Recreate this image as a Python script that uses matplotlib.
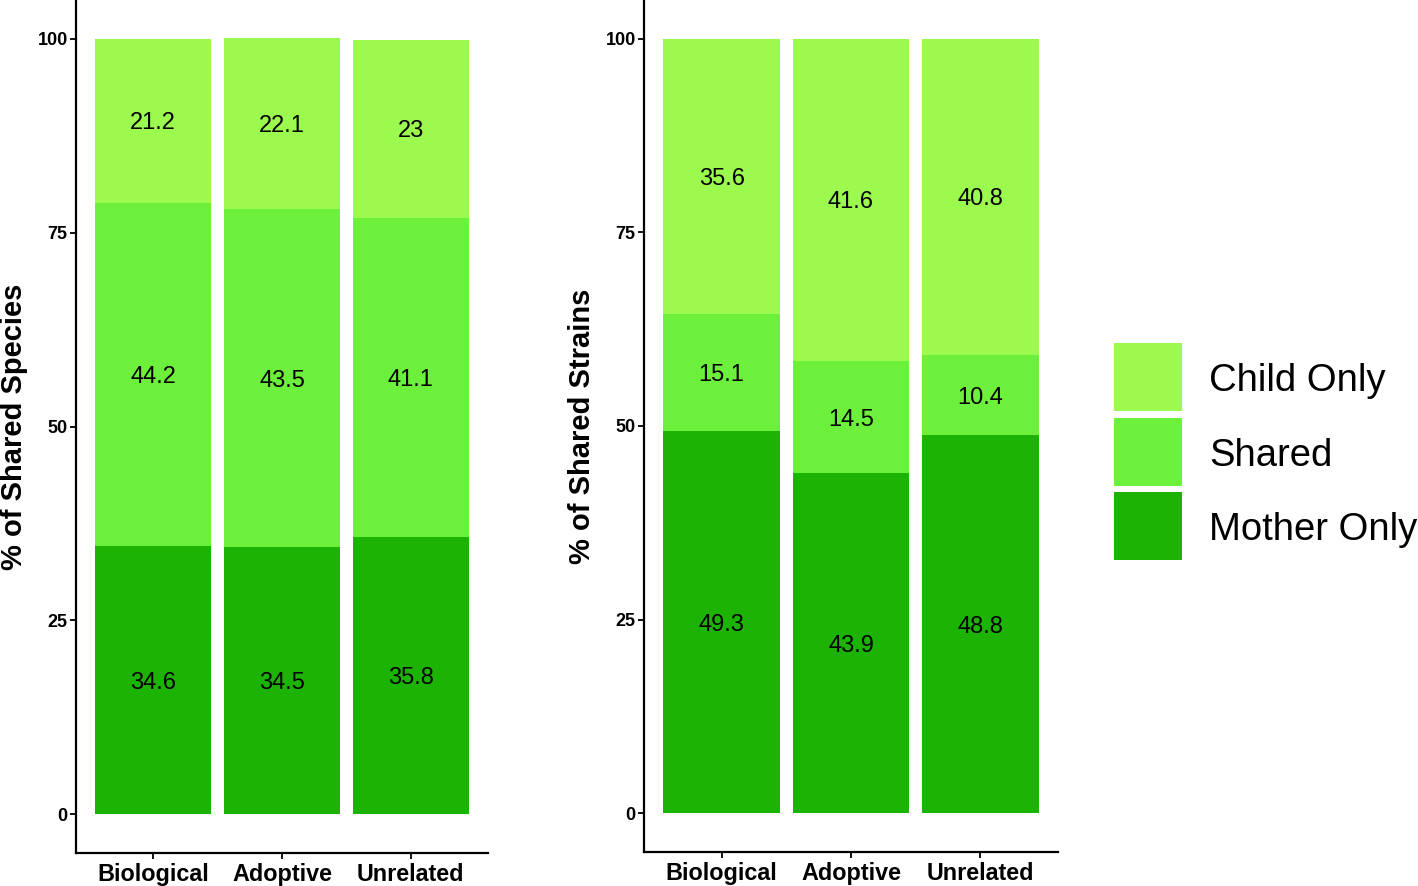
import matplotlib
matplotlib.use("Agg")
import matplotlib.pyplot as plt
from matplotlib.patches import Rectangle

plt.rcParams['font.family'] = ['Liberation Sans', 'DejaVu Sans']

# data
groups = ["Biological", "Adoptive", "Unrelated"]
segments = ["Mother Only", "Shared", "Child Only"]

species_mother = [34.6, 34.5, 35.8]
species_shared = [44.2, 43.5, 41.1]
species_child = [21.2, 22.1, 23.0]

strains_mother = [49.3, 43.9, 48.8]
strains_shared = [15.1, 14.5, 10.4]
strains_child = [35.6, 41.6, 40.8]

colors = {"Child Only": "#9cfa4e", "Shared": "#6df03c", "Mother Only": "#1db304"}

W, H = 1418, 886


def label_text(v):
    # ggplot prints 23 rather than 23.0
    return "%g" % v


def stacked(ax, mother, shared, child, ylabel):
    x = [1, 2, 3]
    bottom = [0, 0, 0]
    for name, vals in zip(segments, [mother, shared, child]):
        ax.bar(x, vals, width=0.9, bottom=bottom, color=colors[name], linewidth=0)
        for xi, b, v in zip(x, bottom, vals):
            ax.text(xi, b + v / 2, label_text(v), ha="center", va="center_baseline",
                    fontsize=17, color="black")
        bottom = [b + v for b, v in zip(bottom, vals)]

    ax.set_xlim(0.4, 3.6)
    ax.set_ylim(-5, 105)
    ax.set_xticks(x)
    ax.set_xticklabels(groups, fontsize=16.8, fontweight="bold")
    ax.set_yticks([0, 25, 50, 75, 100])
    ax.tick_params(axis="y", labelsize=13, width=1.3, length=4, pad=2)
    ax.tick_params(axis="x", width=1.3, length=4, pad=3)
    for lbl in ax.get_yticklabels():
        lbl.set_fontweight("bold")
    ax.set_ylabel(ylabel, fontsize=21, fontweight="bold", labelpad=7)

    # only left and bottom frame lines, like the ggplot classic theme
    ax.spines["top"].set_visible(False)
    ax.spines["right"].set_visible(False)
    ax.spines["left"].set_linewidth(1.6)
    ax.spines["bottom"].set_linewidth(1.6)


fig = plt.figure(figsize=(W / 100, H / 100), dpi=100)
ax1 = fig.add_axes([76 / W, 1 - 853 / H, 412 / W, 853 / H])
ax2 = fig.add_axes([644 / W, 1 - 852 / H, 414 / W, 852 / H])

stacked(ax1, species_mother, species_shared, species_child, "% of Shared Species")
stacked(ax2, strains_mother, strains_shared, strains_child, "% of Shared Strains")

# legend drawn by hand so the keys come out as big squares, Child Only on top
key_x, key_w, key_h, key_step = 1114, 68, 68, 74.5
key_top = 343
for i, name in enumerate(segments[::-1]):
    top = key_top + i * key_step
    fig.patches.append(Rectangle((key_x / W, 1 - (top + key_h) / H), key_w / W, key_h / H,
                                 transform=fig.transFigure, facecolor=colors[name],
                                 edgecolor="none"))
    fig.text(1209 / W, 1 - (top + key_h / 2) / H, name, fontsize=27.5,
             ha="left", va="center_baseline")

fig.savefig("out.png", dpi=100)
